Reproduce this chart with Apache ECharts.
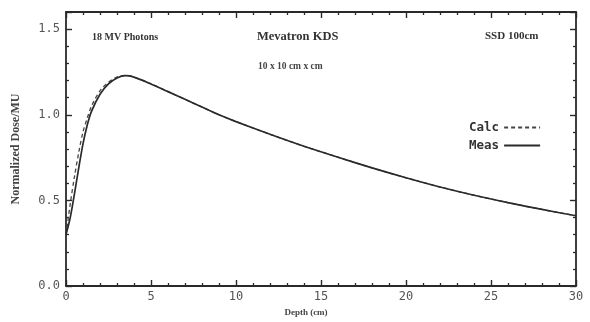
<!DOCTYPE html>
<html><head><meta charset="utf-8">
<script src="https://cdn.jsdelivr.net/npm/echarts@6/dist/echarts.min.js"></script>
<style>html,body{margin:0;padding:0;background:#fff}#c{width:590px;height:322px}</style>
</head><body><div id="c"></div>
<script>
const depth = [0, 0.25, 0.5, 0.75, 1.0, 1.25, 1.5, 2.0, 2.5, 3.0, 3.5, 4.0, 5, 6, 7, 8, 9, 10, 12, 14, 16, 18, 20, 22, 24, 26, 28, 30];
const meas  = [0.30, 0.40, 0.54, 0.69, 0.83, 0.94, 1.02, 1.12, 1.18, 1.215, 1.228, 1.22, 1.18, 1.135, 1.09, 1.045, 1.0, 0.96, 0.886, 0.816, 0.752, 0.69, 0.632, 0.578, 0.53, 0.487, 0.447, 0.41];
const calc  = [0.30, 0.48, 0.64, 0.78, 0.90, 0.98, 1.05, 1.14, 1.19, 1.22, 1.23, 1.22, 1.18, 1.135, 1.09, 1.045, 1.0, 0.96, 0.886, 0.816, 0.752, 0.69, 0.632, 0.578, 0.53, 0.487, 0.447, 0.41];
const xTicks = [0, 5, 10, 15, 20, 25, 30];
const yTicks = [0, 0.5, 1.0, 1.5];
const notes = ["18 MV Photons", "Mevatron KDS", "10 x 10 cm x cm", "SSD 100cm"];

const chart = echarts.init(document.getElementById('c'));
const ink = '#2a2a2a';
const mono = 'DejaVu Sans Mono';
const serif = 'Liberation Serif';
function axisBase(extra){
  return Object.assign({
    axisLine:{show:true, onZero:false, lineStyle:{color:ink, width:1.8}},
    axisTick:{show:true, inside:true, length:6, lineStyle:{color:ink, width:1.4}},
    minorTick:{show:true, splitNumber:5, length:3, lineStyle:{color:ink, width:1.3}},
    splitLine:{show:false}, minorSplitLine:{show:false}
  }, extra);
}
chart.setOption({
  animation:false,
  backgroundColor:'#fff',
  grid:{left:66, right:14, top:12, bottom:36},
  title: [
    {text:notes[0], left:87, top:27, textStyle:{fontFamily:serif, fontWeight:'bold', fontSize:10, color:'#333'}},
    {text:notes[1], left:252, top:25, textStyle:{fontFamily:serif, fontWeight:'bold', fontSize:12.5, color:'#333'}},
    {text:notes[2], left:253, top:57, textStyle:{fontFamily:serif, fontWeight:'bold', fontSize:9.5, color:'#444'}},
    {text:notes[3], left:480, top:26, textStyle:{fontFamily:serif, fontWeight:'bold', fontSize:11, color:'#333'}}
  ],
  legend:{
    orient:'vertical', left:464, top:116, align:'right', itemWidth:36, itemHeight:10, itemGap:5,
    itemStyle:{opacity:0},
    textStyle:{fontFamily:mono, fontWeight:'bold', fontSize:12.5, color:'#333'},
    data:['Calc','Meas']
  },
  xAxis:[
    axisBase({type:'value', min:0, max:30, interval:5, position:'bottom',
      name:'Depth (cm)', nameLocation:'middle', nameGap:18,
      nameTextStyle:{fontFamily:serif, fontWeight:'bold', fontSize:9, color:'#444', padding:[0,30,0,0]},
      axisLabel:{fontFamily:mono, fontSize:12, color:'#555', margin:5,
        formatter:v=>xTicks.includes(v)?String(v):''}}),
    axisBase({type:'value', min:0, max:30, interval:5, position:'top', axisLabel:{show:false}})
  ],
  yAxis:[
    axisBase({type:'value', min:0, max:1.6, interval:0.5, position:'left',
      name:'Normalized Dose/MU', nameLocation:'middle', nameGap:44,
      nameTextStyle:{fontFamily:serif, fontWeight:'bold', fontSize:12, color:'#444'},
      axisLabel:{fontFamily:mono, fontSize:12, color:'#555', margin:6, showMaxLabel:false,
        formatter:v=>yTicks.some(t=>Math.abs(t-v)<1e-9)?v.toFixed(1):''}}),
    axisBase({type:'value', min:0, max:1.6, interval:0.5, position:'right', axisLabel:{show:false}})
  ],
  series:[
    {name:'Calc', type:'line', showSymbol:false, symbol:'none', smooth:0.3,
     data:depth.map((d,i)=>[d,calc[i]]), lineStyle:{color:'#444', width:1.3, type:[4,3]}, itemStyle:{color:'#444'}},
    {name:'Meas', type:'line', showSymbol:false, symbol:'none', smooth:0.3,
     data:depth.map((d,i)=>[d,meas[i]]), lineStyle:{color:'#2a2a2a', width:1.7}, itemStyle:{color:'#333'}}
  ]
});
</script></body></html>
